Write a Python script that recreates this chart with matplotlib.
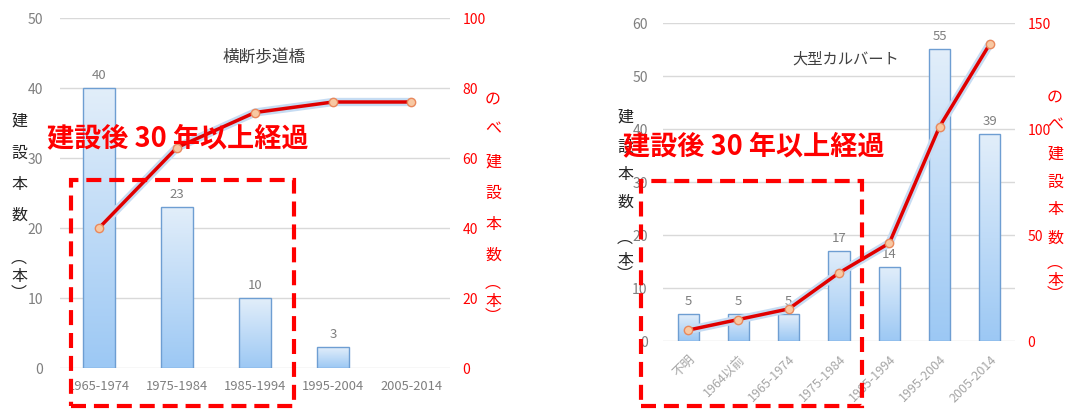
import numpy as np
import matplotlib
matplotlib.use('Agg')
import matplotlib.pyplot as plt
from matplotlib import patheffects as pe
from matplotlib.patches import Rectangle
from matplotlib.colors import LinearSegmentedColormap

plt.rcParams['font.family'] = ['Noto Sans CJK JP', 'DejaVu Sans']

# ---------------- data ----------------
left_title = '横断歩道橋'
left_categories = ['1965-1974', '1975-1984', '1985-1994', '1995-2004', '2005-2014']
left_counts = [40, 23, 10, 3, 0]
left_cumulative = [40, 63, 73, 76, 76]
left_count_ticks = [0, 10, 20, 30, 40, 50]
left_cum_ticks = [0, 20, 40, 60, 80, 100]

right_title = '大型カルバート'
right_categories = ['不明', '1964以前', '1965-1974', '1975-1984', '1985-1994', '1995-2004', '2005-2014']
right_counts = [5, 5, 5, 17, 14, 55, 39]
right_cumulative = [5, 10, 15, 32, 46, 101, 140]
right_count_ticks = [0, 10, 20, 30, 40, 50, 60]
right_cum_ticks = [0, 50, 100, 150]

annotation_text = '建設後 30 年以上経過'
count_label = '建設本数（本）'
cum_label = 'のべ建設本数（本）'

# ---------------- figure ----------------
W, H = 1083, 410
fig = plt.figure(figsize=(W / 100, H / 100), dpi=100)


def fx(x):
    return x / W


def fy(y):
    return 1 - y / H


cmap = LinearSegmentedColormap.from_list('bar', ['#9CC8F4', '#E2EEFA'])
grad = np.linspace(0, 1, 256).reshape(-1, 1)
GRAY = '#7F7F7F'
RED = '#FF0000'


def draw_chart(px, cats, counts, cum, cticks, mticks, rotate, barw, xlab_color, ypad):
    x0, y0, x1, y1 = px
    ax = fig.add_axes([fx(x0), fy(y1), fx(x1) - fx(x0), fy(y0) - fy(y1)])
    xs = np.arange(len(cats))
    bars = ax.bar(xs, counts, width=barw, facecolor='none', edgecolor='#6E9ED2',
                  lw=1.0, zorder=3)
    for i, (b, v) in enumerate(zip(bars, counts)):
        if v <= 0:
            b.set_visible(False)
            continue
        bx, by, bw, bh = b.get_x(), b.get_y(), b.get_width(), b.get_height()
        im = ax.imshow(grad, extent=[bx, bx + bw, by, by + bh], aspect='auto',
                       cmap=cmap, origin='lower', zorder=2)
        im.set_clip_path(b)
        ax.annotate(str(v), (xs[i], v), xytext=(0, 5),
                    textcoords='offset points', ha='center', va='bottom',
                    color=GRAY, fontsize=9.5, zorder=5)
    ax.set_xlim(-0.5, len(cats) - 0.5)
    ax.set_ylim(cticks[0], cticks[-1])
    ax.set_yticks(cticks)
    ax.set_xticks(xs)
    if rotate:
        ax.set_xticklabels(cats, rotation=45, ha='right', va='top',
                           rotation_mode='anchor', color=xlab_color, fontsize=9)
    else:
        ax.set_xticklabels(cats, color=xlab_color, fontsize=9.3)
    ax.tick_params(axis='both', length=0)
    ax.tick_params(axis='y', labelcolor=GRAY, labelsize=10, pad=ypad)
    ax.tick_params(axis='x', pad=8)
    for s in ax.spines.values():
        s.set_visible(False)
    ax.yaxis.grid(True, color='#D9D9D9', lw=1)
    ax.set_axisbelow(True)

    ax2 = ax.twinx()
    ax2.set_ylim(mticks[0], mticks[-1])
    ax2.set_yticks(mticks)
    ax2.tick_params(axis='y', length=0, labelcolor=RED, labelsize=10, pad=9)
    for s in ax2.spines.values():
        s.set_visible(False)
    ax2.plot(xs, cum, color='#E00000', lw=2.5, zorder=4, solid_capstyle='round',
             path_effects=[pe.Stroke(linewidth=6, foreground='#C6DCF3'), pe.Normal()])
    ax2.plot(xs, cum, ls='none', marker='o', ms=6, mfc='#F8C8A2', mec='#E9885C',
             mew=1, zorder=5)
    return ax, ax2


draw_chart((60, 19, 450, 369), left_categories, left_counts, left_cumulative,
           left_count_ticks, left_cum_ticks, False, 0.41, GRAY, 12)
draw_chart((663, 23.7, 1015, 341.7), right_categories, right_counts, right_cumulative,
           right_count_ticks, right_cum_ticks, True, 0.42, '#A6A6A6', 11)

# titles
fig.text(fx(264), fy(58), left_title, ha='center', va='center', fontsize=12, color='#404040')
fig.text(fx(846), fy(59), right_title, ha='center', va='center', fontsize=11, color='#404040')

# vertical axis labels (vertical presentation forms for the parentheses)
VERT = {'（': '\uFE35', '）': '\uFE36'}


def vlabel(text, x, ys, color):
    for ch, y in zip(text, ys):
        fig.text(fx(x), fy(y), VERT.get(ch, ch), ha='center', va='center', fontsize=11.5,
                 color=color)


vlabel(count_label, 19, [121, 153, 185, 215, 258, 277, 294], '#262626')
vlabel(cum_label, 493, [99, 129, 162, 193, 224, 255, 283, 302, 317], RED)
vlabel(count_label, 625, [117, 147, 175, 202, 238, 260, 275], '#262626')
vlabel(cum_label, 1055, [97, 125, 154, 182, 210, 238, 263, 280, 295], RED)

# red annotations
fig.text(fx(178), fy(138), annotation_text, ha='center', va='center', fontsize=19.5,
         fontweight='bold', color=RED, zorder=10)
fig.text(fx(754), fy(146), annotation_text, ha='center', va='center', fontsize=19.5,
         fontweight='bold', color=RED, zorder=10)

# dashed boxes
for (bx0, by0, bx1, by1) in [(71, 181, 294, 407), (641, 182, 862, 407)]:
    fig.patches.append(Rectangle((fx(bx0), fy(by1)), fx(bx1) - fx(bx0), fy(by0) - fy(by1),
                                 transform=fig.transFigure, fill=False, ec=RED, lw=3,
                                 ls=(0, (3.6, 1.9)), zorder=9))

fig.savefig('out.png', dpi=100)
